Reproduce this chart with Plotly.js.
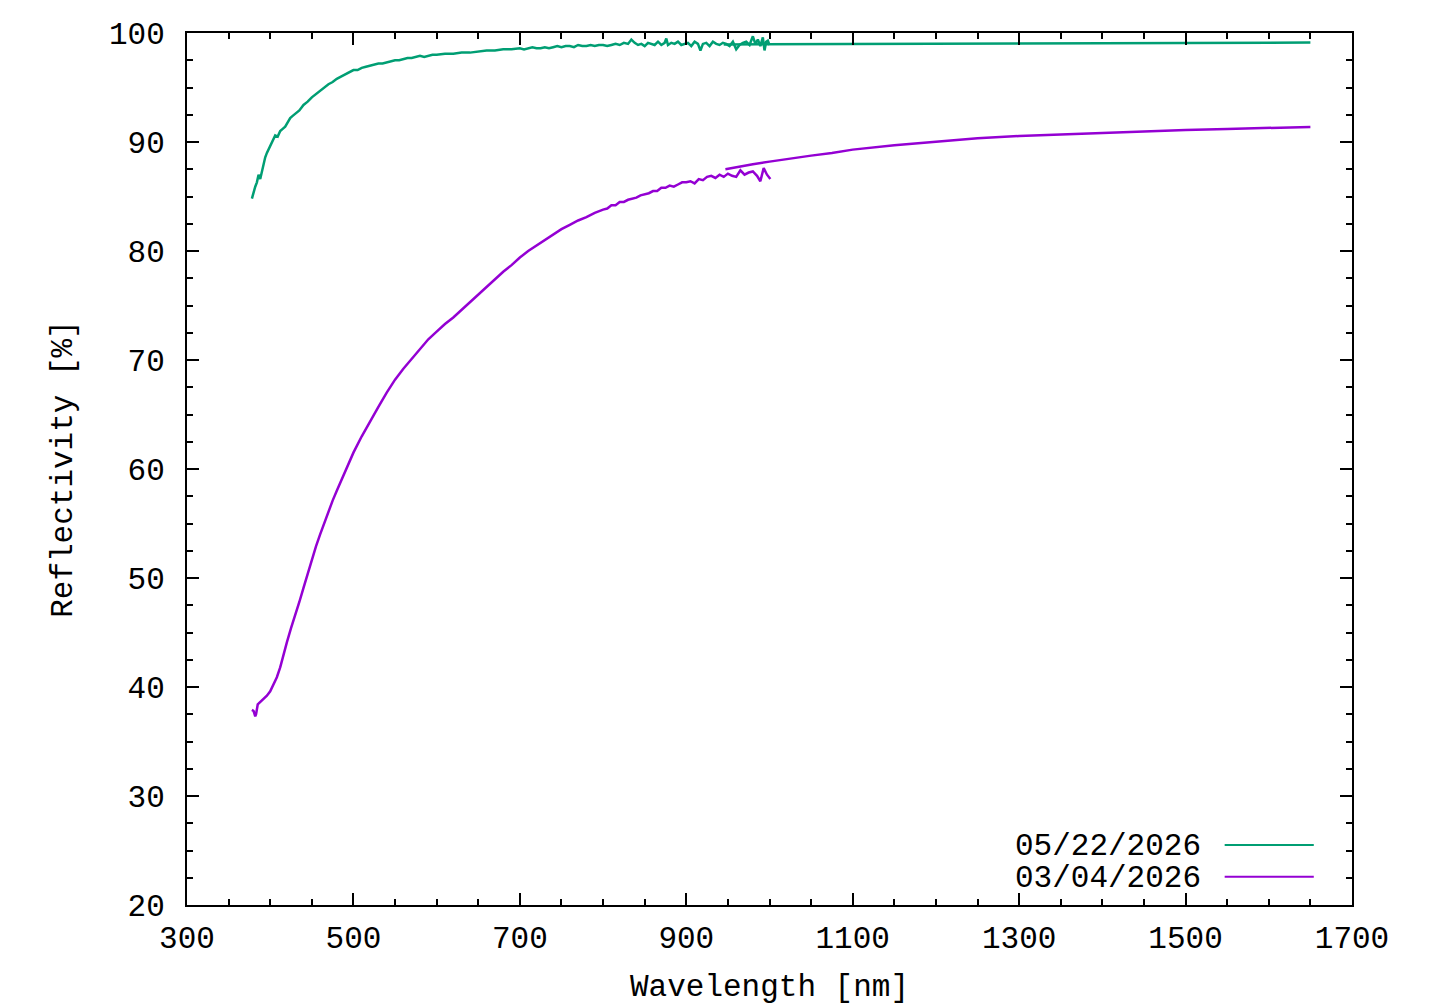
<!DOCTYPE html>
<html>
<head>
<meta charset="utf-8">
<script src="https://cdn.plot.ly/plotly-3.0.1.min.js"></script>
<style>
html, body { margin: 0; padding: 0; background: #ffffff; }
#chart { width: 1440px; height: 1008px; }
</style>
</head>
<body>
<div id="chart"></div>
<script>
// ---- Data ----
const seriesNames = ["05/22/2026", "03/04/2026"];
const seriesColors = ["#009e73", "#9400d3"];

// 05/22/2026 - visible spectrometer segment
const greenVisX = [378, 380, 382, 384, 386, 388, 390, 392, 394, 396, 398, 400, 403, 406, 409, 412, 415, 418, 421, 424, 427, 430, 435, 440, 445, 450, 455, 460, 465, 470, 475, 480, 485, 490, 495, 500, 505, 510, 515, 520, 525, 530, 535, 540, 545, 550, 555, 560, 565, 570, 575, 580, 585, 590, 595, 600, 610, 620, 630, 640, 650, 660, 670, 680, 690, 700, 705, 710, 715, 720, 725, 730, 735, 740, 745, 750, 755, 760, 765, 770, 775, 780,
  785, 790, 795, 800, 805, 810, 815, 820, 825, 830, 834, 838, 842, 846, 850, 854, 858, 862, 866, 870, 874, 876, 878, 882, 886, 890, 894, 898, 902, 906, 910, 914, 917, 920, 924, 928, 932, 936, 940, 944, 948, 952, 956, 960, 964, 968, 972, 976, 980, 983, 986, 989, 992, 994, 996, 998, 1000];
const greenVisY = [84.8, 85.4, 85.9, 86.3, 87.0, 86.6, 87.3, 88.1, 88.6, 89.0, 89.3, 89.6, 90.2, 90.6, 90.5, 91.0, 91.2, 91.4, 91.8, 92.2, 92.4, 92.6, 92.9, 93.4, 93.7, 94.1, 94.4, 94.7, 95.0, 95.3, 95.5, 95.8, 96.0, 96.2, 96.4, 96.6, 96.6, 96.8, 96.9, 97.0, 97.1, 97.2, 97.2, 97.3, 97.4, 97.5, 97.5, 97.6, 97.7, 97.7, 97.8, 97.9, 97.8, 97.9, 98.0, 98.0, 98.1, 98.1, 98.2, 98.2, 98.3, 98.4, 98.4, 98.5, 98.5, 98.6, 98.5, 98.6, 98.7, 98.6, 98.6, 98.7, 98.6, 98.7, 98.8, 98.7, 98.8, 98.8, 98.7, 98.9, 98.8, 98.8,
  98.9, 98.8, 98.9, 98.9, 98.8, 98.9, 99.0, 98.9, 99.1, 99.0, 99.4, 99.1, 98.9, 99.0, 98.8, 99.1, 99.0, 98.9, 99.2, 98.9, 99.1, 99.5, 98.9, 99.1, 99.0, 99.2, 98.9, 99.0, 99.1, 98.8, 99.2, 99.0, 98.4, 99.0, 99.1, 98.8, 99.2, 99.0, 98.9, 99.1, 99.0, 98.8, 99.2, 98.5, 98.9, 99.1, 99.2, 98.9, 99.7, 99.0, 99.4, 98.8, 99.6, 98.4, 99.2, 99.3, 98.9];

// 05/22/2026 - near-infrared spectrometer segment
const greenNirX = [945, 1000, 1050, 1100, 1150, 1200, 1250, 1300, 1350, 1400, 1450, 1500, 1550, 1600, 1650];
const greenNirY = [98.95, 98.96, 98.97, 99.0, 99.02, 99.04, 99.05, 99.05, 99.06, 99.07, 99.07, 99.08, 99.09, 99.1, 99.12];

// 03/04/2026 - visible spectrometer segment
const purpleVisX = [378, 380, 382, 383, 385, 388, 392, 396, 400, 404, 408, 412, 416, 420, 425, 430, 435, 440, 445, 450, 455, 460, 465, 470, 475, 480, 485, 490, 495, 500, 510, 520, 530, 540, 550, 560, 570, 580, 590, 600, 610, 620, 630, 640, 650, 660, 670, 680, 690, 700, 710, 720, 730, 740, 750, 760, 770, 780, 790, 800, 805, 810, 815, 820, 825, 830, 835, 840, 845, 850, 855, 860, 865, 870, 875, 880, 885, 890, 895, 900, 905, 910, 915, 920, 925, 930, 935, 940, 945, 950, 955, 960, 965, 970, 975, 980, 985, 989, 993, 997, 1001];
const purpleVisY = [37.9, 37.8, 37.3, 37.5, 38.4, 38.6, 38.9, 39.2, 39.6, 40.2, 40.9, 41.8, 43.0, 44.1, 45.4, 46.5, 47.8, 49.1, 50.4, 51.7, 52.9, 54.0, 55.1, 56.2, 57.1, 58.0, 58.9, 59.8, 60.6, 61.5, 63.0, 64.4, 65.7, 67.0, 68.2, 69.2, 70.1, 71.0, 71.9, 72.6, 73.3, 73.9, 74.6, 75.3, 76.0, 76.7, 77.4, 78.1, 78.7, 79.4, 80.0, 80.5, 81.0, 81.5, 82.0, 82.4, 82.8, 83.1, 83.5, 83.8, 83.9, 84.2, 84.2, 84.5, 84.5, 84.7, 84.8, 84.9, 85.1, 85.2, 85.3, 85.5, 85.5, 85.8, 85.8, 86.0, 85.9, 86.1, 86.3, 86.3, 86.4, 86.2, 86.6, 86.5, 86.8, 86.9, 86.7, 87.0, 86.8, 87.1, 86.9, 86.8, 87.4, 87.0, 87.2, 87.3, 86.9, 86.4, 87.6, 87.0, 86.6];

// 03/04/2026 - near-infrared spectrometer segment
const purpleNirX = [947, 960, 980, 1000, 1025, 1050, 1075, 1100, 1150, 1200, 1250, 1300, 1350, 1400, 1450, 1500, 1550, 1600, 1650];
const purpleNirY = [87.5, 87.7, 87.95, 88.2, 88.5, 88.75, 89.0, 89.3, 89.7, 90.05, 90.35, 90.55, 90.7, 90.85, 90.98, 91.1, 91.2, 91.3, 91.38];

const xTickVals = [300, 500, 700, 900, 1100, 1300, 1500, 1700];
const yTickVals = [20, 30, 40, 50, 60, 70, 80, 90, 100];
const xAxisTitle = "Wavelength [nm]";
const yAxisTitle = "Reflectivity [%]";

// ---- Build traces ----
const FONT = "'Liberation Mono', 'Courier New', monospace";
function joinSegments(a, b) { return a.concat([null], b); }

const traces = [
  {
    type: "scatter", mode: "lines", name: seriesNames[0],
    x: joinSegments(greenVisX, greenNirX),
    y: joinSegments(greenVisY, greenNirY),
    connectgaps: false,
    line: { color: seriesColors[0], width: 2.5 },
    showlegend: false
  },
  {
    type: "scatter", mode: "lines", name: seriesNames[1],
    x: joinSegments(purpleVisX, purpleNirX),
    y: joinSegments(purpleVisY, purpleNirY),
    connectgaps: false,
    line: { color: seriesColors[1], width: 2.5 },
    showlegend: false
  }
];

// gnuplot-style key: text right-aligned, sample line to its right
const keyRowsY = [0.0669, 0.0306];
const annotations = seriesNames.map((n, i) => ({
  xref: "paper", yref: "paper", x: 0.8724, y: keyRowsY[i],
  xanchor: "right", yanchor: "middle", showarrow: false,
  text: n, font: { family: FONT, size: 31, color: "#000" }
}));
const shapes = seriesNames.map((n, i) => ({
  type: "line", xref: "paper", yref: "paper",
  x0: 0.8907, x1: 0.9672, y0: keyRowsY[i] + 0.0019, y1: keyRowsY[i] + 0.0019,
  line: { color: seriesColors[i], width: 2 }
}));

const axisCommon = {
  showline: true, linecolor: "#000", linewidth: 2, mirror: "ticks",
  ticks: "inside", ticklen: 12, tickwidth: 2, tickcolor: "#000",
  showgrid: false, zeroline: false,
  tickfont: { family: FONT, size: 31, color: "#000" }
};

const layout = {
  width: 1440, height: 1008,
  margin: { l: 187, r: 88, t: 33, b: 103, pad: 0 },
  paper_bgcolor: "#fff", plot_bgcolor: "#fff",
  font: { family: FONT, size: 31, color: "#000" },
  xaxis: Object.assign({}, axisCommon, {
    range: [300, 1700], tickmode: "array", tickvals: xTickVals,
    ticktext: xTickVals.map(String),
    ticklabelstandoff: 4,
    minor: { dtick: 50, ticks: "inside", ticklen: 6, tickwidth: 2, tickcolor: "#000", showgrid: false },
    title: { text: xAxisTitle, font: { family: FONT, size: 31, color: "#000" }, standoff: 18 }
  }),
  yaxis: Object.assign({}, axisCommon, {
    range: [20, 100], tickmode: "array", tickvals: yTickVals,
    ticktext: yTickVals.map(String),
    ticklabelstandoff: 14,
    minor: { dtick: 2.5, ticks: "inside", ticklen: 6, tickwidth: 2, tickcolor: "#000", showgrid: false },
    title: { text: yAxisTitle, font: { family: FONT, size: 31, color: "#000" }, standoff: 27 }
  }),
  annotations: annotations,
  shapes: shapes,
  showlegend: false
};

Plotly.newPlot("chart", traces, layout, { displayModeBar: false, staticPlot: true });
</script>
</body>
</html>
